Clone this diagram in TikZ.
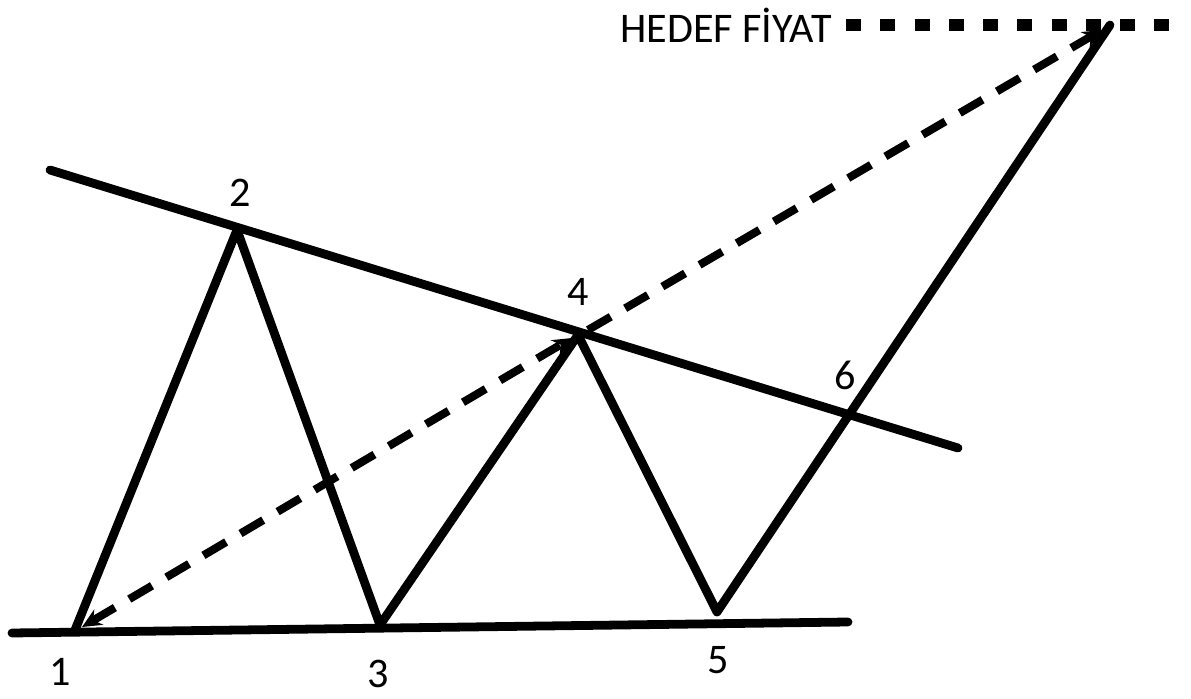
\documentclass[tikz,border=0pt]{standalone}
\usepackage{fontspec}
\setmainfont{Carlito}
\usetikzlibrary{arrows.meta}
\begin{document}
\begin{tikzpicture}[x=0.02cm,y=-0.02cm]
    \tikzset{
        wave/.style={line width=5pt, line cap=round, line join=round},
        trendline/.style={line width=5pt, line cap=round},
        projection/.style={line width=4.6pt, dash pattern=on 15pt off 9.5pt,
            arrows={-Stealth[length=11pt,width=10pt]}},
        targetline/.style={line width=6.5pt, dash pattern=on 8.5pt off 11pt},
        pointlabel/.style={font=\fontsize{24}{28}\selectfont, inner sep=0pt}
    }
    \useasboundingbox (0,0) rectangle (1191,699);

    % wave points
    \coordinate (p1) at (75,630);
    \coordinate (p2) at (237,230);
    \coordinate (p3) at (380,625);
    \coordinate (p4) at (578,335);
    \coordinate (p5) at (717,612);
    \coordinate (tgt) at (1110,25);

    % trend lines
    \coordinate (upperA) at (50,170);
    \coordinate (upperB) at (958,448);
    \coordinate (lowerA) at (12,633);
    \coordinate (lowerB) at (848,622);
    \draw[trendline] (upperA) -- (upperB);
    \draw[trendline] (lowerA) -- (lowerB);

    \draw[wave] (p1) -- (p2) -- (p3) -- (p4) -- (p5) -- (tgt);

    % measured move
    \coordinate (s1) at (82,627);
    \coordinate (s4) at (572,338);
    \coordinate (s4b) at (588,330);
    \coordinate (stgt) at (1102,30);
    \draw[projection, arrows={Stealth[length=11pt,width=10pt]-Stealth[length=11pt,width=10pt]}] (s1) -- (s4);
    \draw[projection] (s4b) -- (stgt);

    % target level
    \node[pointlabel, anchor=east] (hedef) at (832,25) {HEDEF FİYAT};
    \coordinate (tgtend) at (1172,25);
    \draw[targetline] ([xshift=8pt]hedef.east) -- (tgtend);

    % labels
    \node[pointlabel] (n1) at (60,672) {1};
    \node[pointlabel] (n2) at (240,193) {2};
    \node[pointlabel] (n3) at (378,674) {3};
    \node[pointlabel] (n4) at (578,292) {4};
    \node[pointlabel] (n5) at (718,660) {5};
    \node[pointlabel] (n6) at (845,375) {6};
\end{tikzpicture}
\end{document}
